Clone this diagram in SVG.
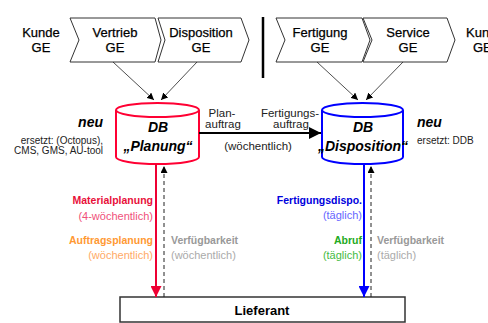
<svg xmlns="http://www.w3.org/2000/svg" width="488" height="323" viewBox="0 0 488 323">
<style>
text{font-family:"Liberation Sans",Arial,sans-serif}
.ge{font-size:13px;fill:#000;text-anchor:middle;stroke:#000;stroke-width:0.25}
.chev{fill:#fff;stroke:#333;stroke-width:1}
.db{font-size:14px;font-weight:bold;font-style:italic;text-anchor:middle}
.lbl{font-size:11.5px;fill:#222;text-anchor:middle}
.b{font-size:10.5px;font-weight:bold}
.r{font-size:11px}
.e{text-anchor:end}
.neu{font-size:14px;font-weight:bold;font-style:italic}
.small{font-size:10px;fill:#222}
.thin{stroke:#222;stroke-width:0.8;fill:none}
</style>
<defs>
<marker id="ah" viewBox="0 0 10 10" refX="10" refY="5" markerWidth="7" markerHeight="7" markerUnits="userSpaceOnUse" orient="auto"><path d="M0,0L10,5L0,10z" fill="#000"/></marker>
<marker id="ahb" viewBox="0 0 10 10" refX="10" refY="5" markerWidth="12" markerHeight="12" markerUnits="userSpaceOnUse" orient="auto"><path d="M0,0L10,5L0,10z" fill="#000"/></marker>
<marker id="ahr" viewBox="0 0 10 10" refX="10" refY="5" markerWidth="11" markerHeight="11" markerUnits="userSpaceOnUse" orient="auto"><path d="M0,0L10,5L0,10z" fill="#ee0033"/></marker>
<marker id="ahu" viewBox="0 0 10 10" refX="10" refY="5" markerWidth="11" markerHeight="11" markerUnits="userSpaceOnUse" orient="auto"><path d="M0,0L10,5L0,10z" fill="#0000ff"/></marker>
<marker id="ahd" viewBox="0 0 10 10" refX="10" refY="5" markerWidth="7" markerHeight="7" markerUnits="userSpaceOnUse" orient="auto"><path d="M0,0L10,5L0,10z" fill="#000"/></marker>
</defs>

<g id="kunde-left"><text class="ge" x="41" y="37">Kunde</text><text class="ge" x="41" y="52">GE</text></g>
<g id="vertrieb"><polygon class="chev" points="70,18 155,18 161,40 155,62 70,62 79,40"/><text class="ge" x="115" y="37">Vertrieb</text><text class="ge" x="115" y="52">GE</text></g>
<g id="disposition-ge"><polygon class="chev" points="158,18 241,18 249,40 241,62 158,62 165,40"/><text class="ge" x="201" y="37">Disposition</text><text class="ge" x="201" y="52">GE</text></g>
<g id="separator"><line x1="263" y1="17" x2="263" y2="78" stroke="#000" stroke-width="2.5"/></g>
<g id="fertigung"><polygon class="chev" points="276,18 362,18 370,40 362,62 276,62 285,40"/><text class="ge" x="320" y="37">Fertigung</text><text class="ge" x="320" y="52">GE</text></g>
<g id="service"><polygon class="chev" points="363,18 447,18 455,40 447,62 363,62 372,40"/><text class="ge" x="408" y="37">Service</text><text class="ge" x="408" y="52">GE</text></g>
<g id="kunde-right"><text class="ge" x="466" y="37" style="text-anchor:start">Kunde</text><text class="ge" x="473" y="52" style="text-anchor:start">GE</text></g>

<g id="db-planung">
<path d="M116,110 L116,157 A41.5,7 0 0 0 199,157 L199,110" fill="#fff" stroke="#ff0033" stroke-width="2"/>
<ellipse cx="157.5" cy="110" rx="41.5" ry="7" fill="#fff" stroke="#ff0033" stroke-width="2"/>
<text class="db" x="158" y="132">DB</text><text class="db" x="158" y="151">„Planung“</text>
</g>
<g id="db-disposition">
<path d="M322,110 L322,157 A40.5,7 0 0 0 403,157 L403,110" fill="#fff" stroke="#0000ff" stroke-width="2"/>
<ellipse cx="362.5" cy="110" rx="40.5" ry="7" fill="#fff" stroke="#0000ff" stroke-width="2"/>
<text class="db" x="363" y="132">DB</text><text class="db" x="363" y="151">„Disposition“</text>
</g>

<g id="note-left">
<text class="neu e" x="103" y="127">neu</text>
<text class="small e" x="103" y="144">ersetzt: (Octopus),</text>
<text class="small e" x="103" y="154">CMS, GMS, AU-tool</text>
</g>
<g id="note-right">
<text class="neu" x="417" y="127">neu</text>
<text class="small" x="417" y="144">ersetzt: DDB</text>
</g>

<g id="lieferant">
<rect x="120" y="297" width="285" height="25" fill="#fff" stroke="#333" stroke-width="1.5"/>
<text x="262" y="315" font-size="13" font-weight="bold" text-anchor="middle">Lieferant</text>
</g>

<g id="connectors">
<line class="thin" x1="113" y1="62" x2="154" y2="100" marker-end="url(#ah)"/>
<line class="thin" x1="197" y1="62" x2="161" y2="100" marker-end="url(#ah)"/>
<line class="thin" x1="317" y1="62" x2="358" y2="100" marker-end="url(#ah)"/>
<line class="thin" x1="403" y1="62" x2="366" y2="100" marker-end="url(#ah)"/>
<line x1="199" y1="133" x2="321" y2="133" stroke="#000" stroke-width="2" marker-end="url(#ahb)"/>
<line x1="156" y1="164" x2="156" y2="297" stroke="#ee0033" stroke-width="2" marker-end="url(#ahr)"/>
<line x1="164" y1="297" x2="164" y2="166" stroke="#222" stroke-width="1" stroke-dasharray="4,3" marker-end="url(#ahd)"/>
<line x1="364" y1="164" x2="364" y2="297" stroke="#0000ff" stroke-width="2" marker-end="url(#ahu)"/>
<line x1="371" y1="297" x2="371" y2="166" stroke="#222" stroke-width="1" stroke-dasharray="4,3" marker-end="url(#ahd)"/>
</g>

<g id="labels">
<text class="lbl" x="222" y="117">Plan-</text>
<text class="lbl" x="223" y="128">auftrag</text>
<text class="lbl" x="290" y="117">Fertigungs-</text>
<text class="lbl" x="291" y="128">auftrag</text>
<text class="lbl" x="258" y="150">(wöchentlich)</text>

<text class="b e" x="153" y="204" fill="#e8103a">Materialplanung</text>
<text class="r e" x="153" y="220" fill="#f0507a">(4-wöchentlich)</text>
<text class="b e" x="153" y="244" fill="#ff9933">Auftragsplanung</text>
<text class="r e" x="153" y="259" fill="#ffaa66">(wöchentlich)</text>
<text class="b" x="171" y="244" fill="#999">Verfügbarkeit</text>
<text class="r" x="171" y="259" fill="#aaa">(wöchentlich)</text>

<text class="b e" x="362" y="204" fill="#0000dd">Fertigungsdispo.</text>
<text class="r e" x="362" y="219" fill="#6666ff">(täglich)</text>
<text class="b e" x="362" y="244" fill="#22aa22">Abruf</text>
<text class="r e" x="362" y="259" fill="#44bb44">(täglich)</text>
<text class="b" x="377" y="244" fill="#999">Verfügbarkeit</text>
<text class="r" x="377" y="259" fill="#aaa">(täglich)</text>
</g>
</svg>
